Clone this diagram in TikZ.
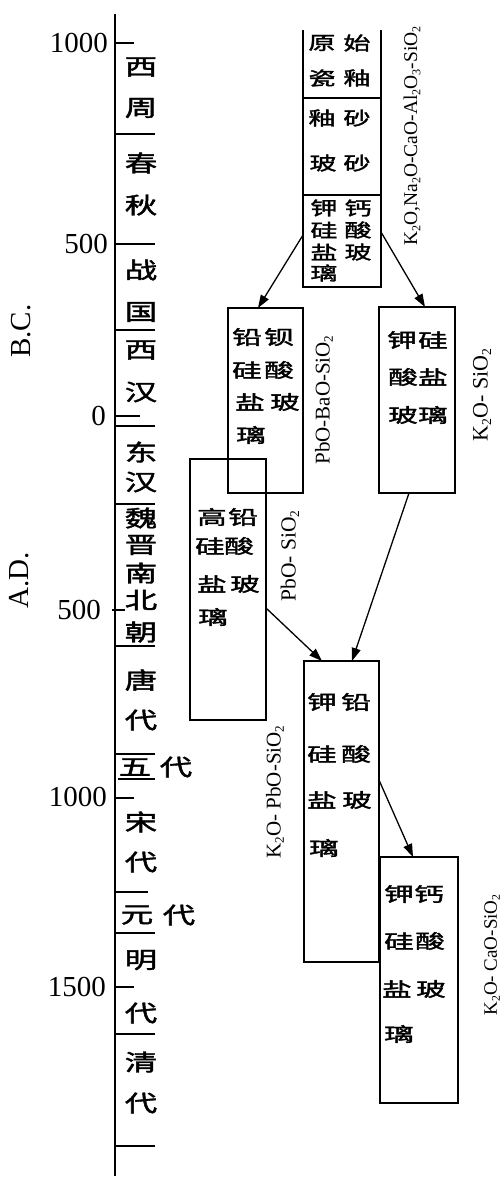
\documentclass[tikz,border=0pt]{standalone}
\usepackage{fontspec}
\setmainfont{Liberation Serif}
\newfontfamily\cjkf[FakeBold=1.6]{Noto Sans CJK SC}
\usetikzlibrary{arrows.meta,calc}
\newcommand{\sbs}[1]{\raisebox{-0.35ex}{\scalebox{0.62}{#1}}}
\newcommand{\chD}[4]{\node[dyn] (#1) at (#2,#3) {\scalebox{1.08}[0.76]{#4}};}
\newcommand{\chB}[4]{\node[bch] (#1) at (#2,#3) {\scalebox{1.04}[0.68]{#4}};}
\newcommand{\chT}[4]{\node[tch] (#1) at (#2,#3) {\scalebox{1.02}[0.7]{#4}};}
\begin{document}
\begin{tikzpicture}[x=1pt,y=-1pt,
  axisline/.style={line width=1.8pt},
  tick/.style={line width=1.6pt},
  box/.style={draw,line width=1.6pt,inner sep=0pt,outer sep=0pt},
  boxline/.style={line width=1.6pt},
  arr/.style={line width=1.3pt,-{Triangle[length=13pt,width=9pt]}},
  year/.style={font=\fontsize{29}{29}\selectfont,inner sep=0pt,anchor=east},
  era/.style={font=\fontsize{29}{29}\selectfont,inner sep=0pt,rotate=90},
  dyn/.style={font=\cjkf\fontsize{30}{30}\selectfont,inner sep=0pt},
  bch/.style={font=\cjkf\fontsize{28.5}{28.5}\selectfont,inner sep=0pt},
  tch/.style={font=\cjkf\fontsize{26.5}{26.5}\selectfont,inner sep=0pt},
  formula/.style={inner sep=0pt,rotate=90}]
\useasboundingbox (0,0) rectangle (502,1181);
% axis
\coordinate (axtop) at (115,14);
\coordinate (axbot) at (115,1176);
\draw[axisline] (axtop) -- (axbot);
% year ticks
\foreach \y in {43,798,987} \draw[tick] (115,\y) -- (134,\y);
\draw[tick] (115,416) -- (140,416);
\draw[tick] (112,610) -- (125,610);
% dynasty boundaries
\foreach \y in {134,244,330,426,504,646,754,933,1034,1146} \draw[tick] (115,\y) -- (155,\y);
\draw[tick] (118,779) -- (155,779);
\draw[tick] (115,892) -- (148,892);
% year labels
\node[year] (y1000bc) at (108,43) {1000};
\node[year] (y500bc) at (108,244) {500};
\node[year] (y0) at (106,416) {0};
\node[year] (y500ad) at (101,610) {500};
\node[year] (y1000ad) at (107,797) {1000};
\node[year] (y1500ad) at (106,987) {1500};
\node[era] (bc) at (21,331) {B.C.};
\node[era] (ad) at (19,580) {A.D.};
% dynasties
\chD{d1}{141}{67}{西}
\chD{d2}{141}{108}{周}
\chD{d3}{141}{163}{春}
\chD{d4}{141}{205}{秋}
\chD{d5}{141}{270}{战}
\chD{d6}{141}{312}{国}
\chD{d7}{141}{350}{西}
\chD{d8}{141}{392}{汉}
\chD{d9}{141}{452}{东}
\chD{d10}{141}{482}{汉}
\chD{d11}{141}{518}{魏}
\chD{d12}{141}{545}{晋}
\chD{d13}{141}{573}{南}
\chD{d14}{141}{600}{北}
\chD{d15}{141}{632}{朝}
\chD{d16}{141}{680}{唐}
\chD{d17}{141}{720}{代}
\chD{d18}{135}{767}{五}
\chD{d19}{176}{767}{代}
\chD{d20}{141}{822}{宋}
\chD{d21}{141}{862}{代}
\chD{d22}{137}{915}{元}
\chD{d23}{179}{915}{代}
\chD{d24}{141}{960}{明}
\chD{d25}{141}{1013}{代}
\chD{d26}{141}{1062}{清}
\chD{d27}{141}{1103}{代}
% top stack
\node[box,minimum width=78pt,minimum height=97pt] (seg2) at (342,146.5) {};
\node[box,minimum width=78pt,minimum height=92pt] (kca) at (342,241) {};
\draw[boxline] (seg2.north west) -- ++(0,-68);
\draw[boxline] (seg2.north east) -- ++(0,-68);
\chT{t1}{322}{43}{原}
\chT{t2}{357}{43}{始}
\chT{t3}{322}{78}{瓷}
\chT{t4}{357}{78}{釉}
\chT{t5}{322}{118}{釉}
\chT{t6}{357}{118}{砂}
\chT{t7}{323}{163}{玻}
\chT{t8}{357}{163}{砂}
\chT{t9}{324}{208}{钾}
\chT{t10}{358}{208}{钙}
\chT{t11}{324}{230}{硅}
\chT{t12}{358}{230}{酸}
\chT{t13}{324}{252}{盐}
\chT{t14}{358}{252}{玻}
\chT{t15}{324}{273}{璃}
\node[formula,font=\fontsize{19.5}{19.5}\selectfont] (ftop) at (412,136) {K\sbs{2}O,Na\sbs{2}O-CaO-Al\sbs{2}O\sbs{3}-SiO\sbs{2}};
% boxes
\node[box,minimum width=75pt,minimum height=185pt] (pbba) at (265.5,400.5) {};
\node[box,minimum width=76pt,minimum height=186pt] (ksi) at (417,400) {};
\node[box,minimum width=76pt,minimum height=261pt] (gq) at (228,589.5) {};
\node[box,minimum width=75pt,minimum height=301pt] (kpb) at (341.5,811.5) {};
\node[box,minimum width=78pt,minimum height=246pt] (kcab) at (419,980) {};
% pbba text
\chB{p1}{247}{337}{铅}
\chB{p2}{279}{337}{钡}
\chB{p3}{247}{370}{硅}
\chB{p4}{279}{370}{酸}
\chB{p5}{250}{402}{盐}
\chB{p6}{285}{402}{玻}
\chB{p7}{251}{435}{璃}
\node[formula,font=\fontsize{21}{21}\selectfont] (fpbba) at (324,400) {PbO-BaO-SiO\sbs{2}};
% ksi text
\chB{s1}{402}{340}{钾}
\chB{s2}{433}{340}{硅}
\chB{s3}{403}{377}{酸}
\chB{s4}{433}{377}{盐}
\chB{s5}{403}{415}{玻}
\chB{s6}{433}{415}{璃}
\node[formula,font=\fontsize{22}{22}\selectfont] (fksi) at (482,395) {K\sbs{2}O- SiO\sbs{2}};
% gq text
\chB{g1}{212}{517}{高}
\chB{g2}{243}{517}{铅}
\chB{g3}{210}{546}{硅}
\chB{g4}{239}{546}{酸}
\chB{g5}{212}{584}{盐}
\chB{g6}{245}{584}{玻}
\chB{g7}{213}{617}{璃}
\node[formula,font=\fontsize{21.5}{21.5}\selectfont] (fgq) at (290,556) {PbO- SiO\sbs{2}};
% kpb text
\chB{k1}{322}{702}{钾}
\chB{k2}{356}{702}{铅}
\chB{k3}{322}{754}{硅}
\chB{k4}{356}{754}{酸}
\chB{k5}{322}{800}{盐}
\chB{k6}{357}{800}{玻}
\chB{k7}{324}{848}{璃}
\node[formula,font=\fontsize{21}{21}\selectfont] (fkpb) at (275,792) {K\sbs{2}O- PbO-SiO\sbs{2}};
% kcab text
\chB{c1}{399}{894}{钾}
\chB{c2}{429}{894}{钙}
\chB{c3}{399}{941}{硅}
\chB{c4}{430}{941}{酸}
\chB{c5}{397}{989}{盐}
\chB{c6}{431}{989}{玻}
\chB{c7}{399}{1034}{璃}
\node[formula,font=\fontsize{19}{19}\selectfont] (fkca) at (492,955) {K\sbs{2}O- CaO-SiO\sbs{2}};
% arrows
\draw[arr] ($(kca.north west)+(0,40)$) -- ($(pbba.north west)+(30,0)$);
\draw[arr] ($(kca.north east)+(0,37)$) -- ($(ksi.north west)+(46,0)$);
\draw[arr] ($(gq.north east)+(0,149)$) -- ($(kpb.north west)+(18,0)$);
\draw[arr] ($(ksi.south west)+(30,0)$) -- ($(kpb.north west)+(48,0)$);
\draw[arr] ($(kpb.north east)+(0,119)$) -- ($(kcab.north west)+(33,0)$);
\end{tikzpicture}
\end{document}
